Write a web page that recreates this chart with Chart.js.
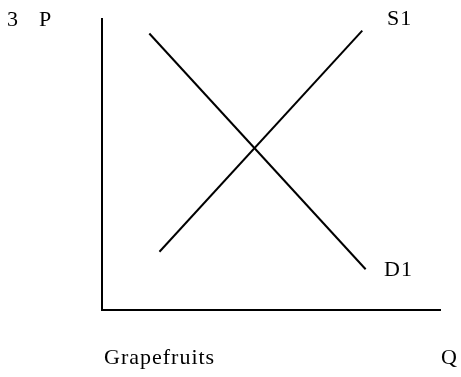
<!DOCTYPE html>
<html>
<head>
<meta charset="utf-8">
<script src="https://cdn.jsdelivr.net/npm/chart.js@4"></script>
<style>
  body { margin: 0; background: #fff; }
  #wrap { width: 461px; height: 377px; }
</style>
</head>
<body>
<div id="wrap"><canvas id="myChart" width="461" height="377"></canvas></div>
<script>
// quantity / price points of the two curves (axis units 0-100)
var demandQ = [14, 78];
var demandP = [95, 14];
var supplyQ = [17, 77];
var supplyP = [20, 96];

// text around the diagram
var labels = [
  { text: "3", x: 7, y: 26 },
  { text: "P", x: 39, y: 26 },
  { text: "S1", x: 387, y: 25 },
  { text: "D1", x: 384, y: 276 },
  { text: "Grapefruits", x: 104, y: 364 },
  { text: "Q", x: 441, y: 364 }
];

function pts(xs, ys) {
  return xs.map(function (x, i) { return { x: x, y: ys[i] }; });
}

var textPlugin = {
  id: 'textLabels',
  afterDraw: function (chart) {
    var c = chart.ctx;
    c.save();
    c.fillStyle = '#000';
    c.font = '22px "Liberation Serif"';
    c.letterSpacing = '1px';
    c.textBaseline = 'alphabetic';
    labels.forEach(function (l) { c.fillText(l.text, l.x, l.y); });
    c.restore();
  }
};

var ctx = document.getElementById("myChart");
var myChart = new Chart(ctx, {
  type: 'scatter',
  data: {
    datasets: [
      {
        label: "D1",
        data: pts(demandQ, demandP),
        showLine: true,
        borderColor: "#000",
        borderWidth: 2,
        pointRadius: 0,
        fill: false
      },
      {
        label: "S1",
        data: pts(supplyQ, supplyP),
        showLine: true,
        borderColor: "#000",
        borderWidth: 2,
        pointRadius: 0,
        fill: false
      }
    ]
  },
  options: {
    responsive: false,
    animation: false,
    layout: { padding: { left: 102, top: 19, right: 21, bottom: 67 } },
    plugins: { legend: { display: false }, tooltip: { enabled: false } },
    scales: {
      x: {
        type: 'linear', min: 0, max: 100,
        ticks: { display: false },
        grid: { display: false, drawTicks: false },
        border: { display: true, color: '#000', width: 2 }
      },
      y: {
        type: 'linear', min: 0, max: 100,
        ticks: { display: false },
        grid: { display: false, drawTicks: false },
        border: { display: true, color: '#000', width: 2 }
      }
    }
  },
  plugins: [textPlugin]
});
</script>
</body>
</html>
